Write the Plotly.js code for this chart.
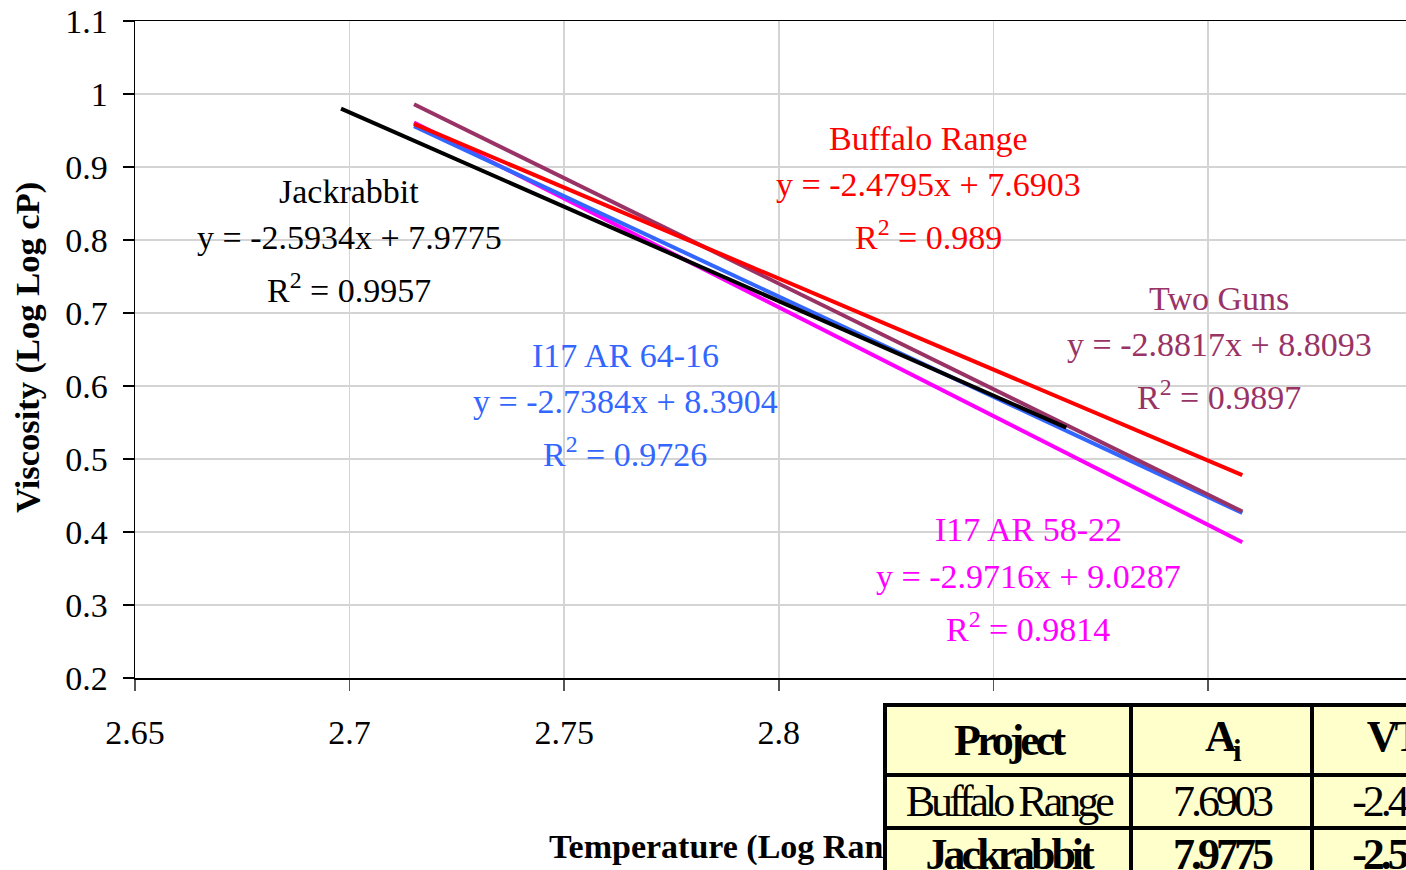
<!DOCTYPE html>
<html>
<head>
<meta charset="utf-8">
<script src="https://cdn.plot.ly/plotly-3.0.1.min.js"></script>
<style>
html, body { margin: 0; padding: 0; overflow: hidden; background: #ffffff; }
#chart { width: 1406px; height: 870px; }
</style>
</head>
<body>
<div id="chart"></div>
<script>
// ---------- data ----------
const seriesNames = ["I17 AR 58-22", "I17 AR 64-16", "Two Guns", "Buffalo Range", "Jackrabbit"];
const xAR5822 = [2.715, 2.908];
const yAR5822 = [0.961, 0.386];
const xAR6416 = [2.715, 2.908];
const yAR6416 = [0.956, 0.426];
const xTwoGuns = [2.715, 2.908];
const yTwoGuns = [0.986, 0.428];
const xBuffalo = [2.715, 2.908];
const yBuffalo = [0.959, 0.478];
const xJackrabbit = [2.698, 2.867];
const yJackrabbit = [0.980, 0.543];

const slopes = ["-2.9716", "-2.7384", "-2.8817", "-2.4795", "-2.5934"];
const intercepts = ["9.0287", "8.3904", "8.8093", "7.6903", "7.9775"];
const rSquared = ["0.9814", "0.9726", "0.9897", "0.989", "0.9957"];

// x tick labels (2.85 and 2.9 are hidden behind the table in the reference)
const xTickVals = [2.65, 2.7, 2.75, 2.8, 2.85, 2.9];
const xTickText = ["2.65", "2.7", "2.75", "2.8", "", ""];

const tableHeaders = ["Project", "A<sub>i</sub>", "VTS<sub>i</sub>"];
const tableProjects = ["Buffalo Range", "Jackrabbit"];
const tableA = ["7.6903", "7.9775"];
const tableVTS = ["-2.4795", "-2.5934"];

const xTitle = "Temperature (Log Rankine)";
const yTitle = "Viscosity (Log Log cP)";

// ---------- styles / layout ----------
const colors = ["#FF00FF", "#3366FF", "#993366", "#FF0000", "#000000"];
const xs = [xAR5822, xAR6416, xTwoGuns, xBuffalo, xJackrabbit];
const ys = [yAR5822, yAR6416, yTwoGuns, yBuffalo, yJackrabbit];

const W = 1406, H = 870;
const L = 135, R = 1406, T = 21, B = 678;
const px = v => (v - L) / (R - L);
const py = v => (B - v) / (B - T);
const serif = "Liberation Serif, Times New Roman, serif";

const traces = seriesNames.map((n, i) => ({
  type: "scatter", mode: "lines", name: n,
  x: xs[i], y: ys[i],
  line: { color: colors[i], width: 4 },
  hoverinfo: "skip"
}));

// label centers in pixels: [cx, yName, yEq, yR2]
const labelPos = [
  [1028, 529, 576, 627],
  [625, 355, 401, 452],
  [1219, 298, 344, 395],
  [928, 138, 184, 235],
  [349, 191, 237, 288]
];

const annotations = [];
seriesNames.forEach((n, i) => {
  const p = labelPos[i];
  const f = { family: serif, size: 34, color: colors[i] };
  const texts = [n, "y = " + slopes[i] + "x + " + intercepts[i], "R<sup>2</sup> = " + rSquared[i]];
  texts.forEach((t, k) => {
    annotations.push({
      xref: "paper", yref: "paper", x: px(p[0]), y: py(p[k + 1]),
      xanchor: "center", yanchor: "middle", showarrow: false,
      text: t, font: f
    });
  });
});

// axis titles
annotations.push({
  xref: "paper", yref: "paper", x: px(547), y: py(847),
  xanchor: "left", yanchor: "middle", showarrow: false,
  text: "<b>" + xTitle + "</b>", font: { family: serif, size: 34, color: "#000" }
});
annotations.push({
  xref: "paper", yref: "paper", x: px(27), y: py(348),
  xanchor: "center", yanchor: "middle", showarrow: false, textangle: -90,
  text: "<b>" + yTitle + "</b>", font: { family: serif, size: 34.5, color: "#000" }
});

// table cells
const tableStart = annotations.length;
const colEdges = [884.5, 1131, 1312, 1500];
const rowEdges = [705, 775, 828, 881];
const bw = 4;
const rows = [tableHeaders,
  [tableProjects[0], tableA[0], tableVTS[0]],
  [tableProjects[1], tableA[1], tableVTS[1]]];
rows.forEach((row, r) => {
  row.forEach((txt, c) => {
    const left = colEdges[c] - bw / 2, right = colEdges[c + 1] + bw / 2;
    const top = rowEdges[r] - bw / 2, bottom = rowEdges[r + 1] + bw / 2;
    const bold = (r === 0 || r === 2);
    annotations.push({
      xref: "paper", yref: "paper", x: px(left), y: py(top),
      xanchor: "left", yanchor: "top", showarrow: false,
      width: (right - left) - 2 * bw, height: (bottom - top) - 2 * bw,
      borderpad: 0, borderwidth: bw, bordercolor: "#000000", bgcolor: "#FFFFCC",
      align: "center", valign: "middle",
      text: bold ? "<b>" + txt + "</b>" : txt,
      font: { family: serif, size: 44, color: "#000" }
    });
  });
});

// condensed letter spacing for the table text
let css = "";
for (let i = tableStart; i < annotations.length; i++) {
  css += 'g.annotation[data-index="' + i + '"] text { letter-spacing: -4px; }\n';
}
const st = document.createElement("style");
st.textContent = css;
document.head.appendChild(st);

const layout = {
  width: W, height: H,
  margin: { l: L, r: W - R, t: T, b: H - B, pad: 0 },
  paper_bgcolor: "#ffffff", plot_bgcolor: "#ffffff",
  showlegend: false,
  xaxis: {
    range: [2.65, 2.65 + (R - L) / 4292],
    tickmode: "array", tickvals: xTickVals, ticktext: xTickText,
    showgrid: true, gridcolor: "#d4d4d4", gridwidth: 1.5,
    zeroline: false,
    showline: true, linecolor: "#000000", linewidth: 1.5, mirror: true,
    ticks: "outside", ticklen: 11, tickwidth: 1.5, tickcolor: "#555555",
    tickfont: { family: serif, size: 34, color: "#000" },
    ticklabelstandoff: 13
  },
  yaxis: {
    range: [0.2, 1.1],
    tick0: 0.2, dtick: 0.1, tickmode: "linear",
    showgrid: true, gridcolor: "#d4d4d4", gridwidth: 1.5,
    zeroline: false,
    showline: true, linecolor: "#000000", linewidth: 1.5,
    ticks: "outside", ticklen: 11, tickwidth: 1.5, tickcolor: "#000000",
    tickfont: { family: serif, size: 34, color: "#000" },
    ticklabelstandoff: 8
  },
  annotations: annotations
};

Plotly.newPlot("chart", traces, layout, { staticPlot: true, displayModeBar: false });
</script>
</body>
</html>
